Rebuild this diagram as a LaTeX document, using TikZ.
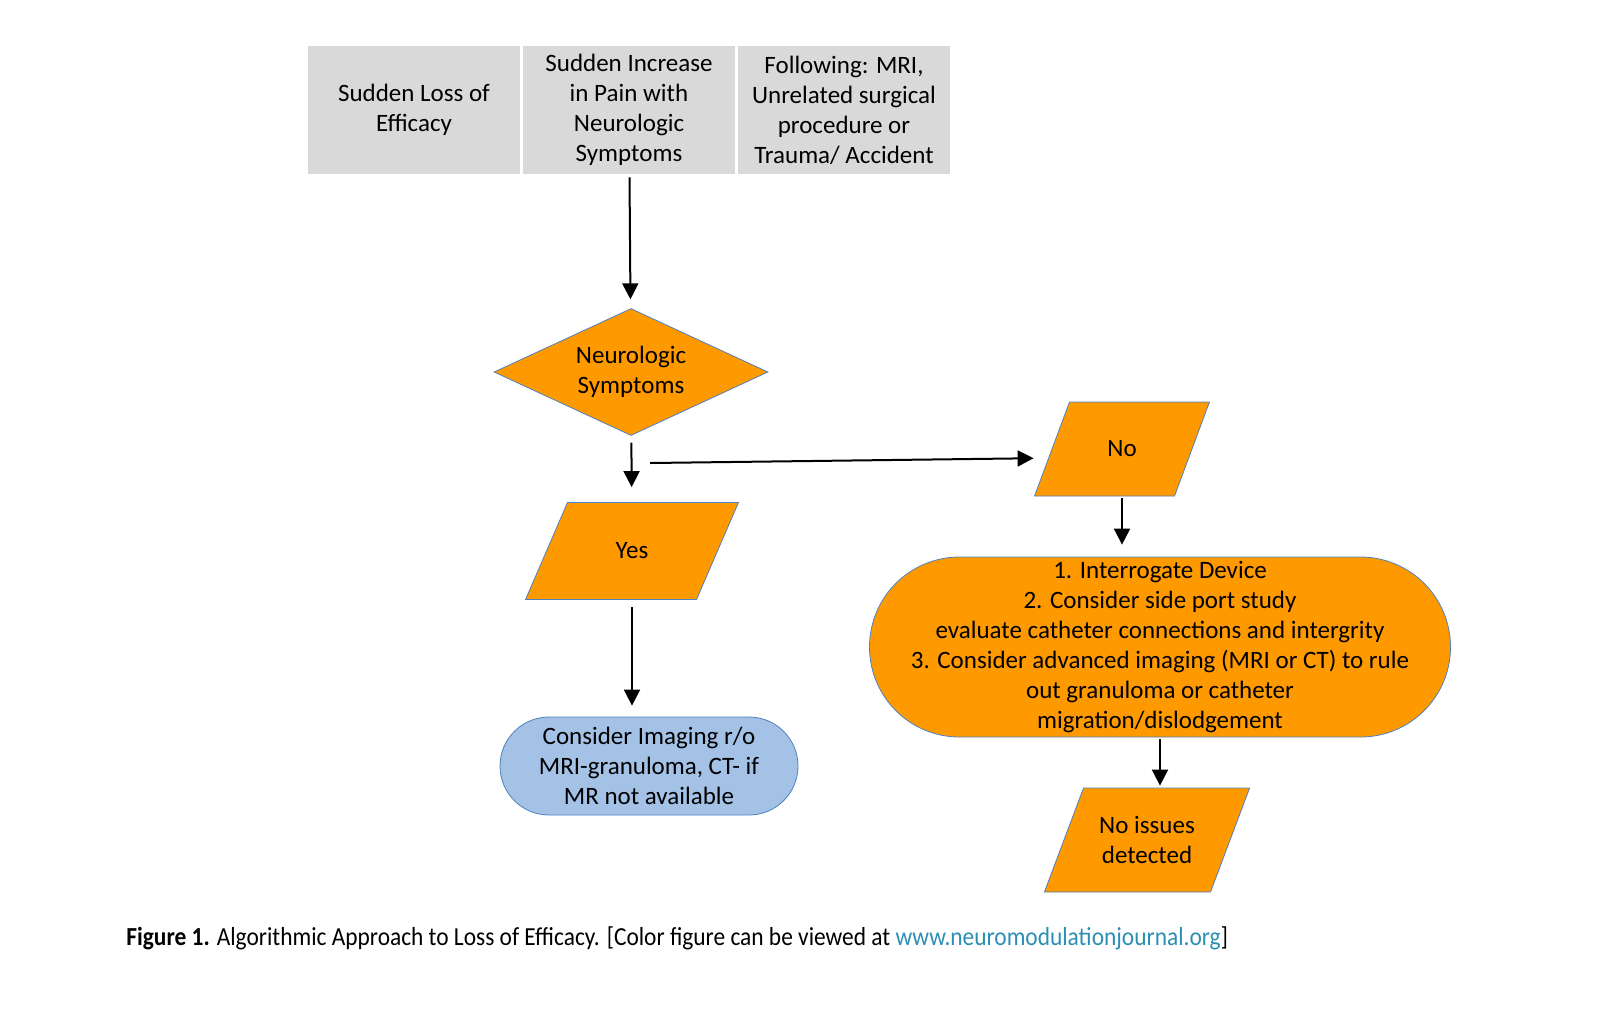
\documentclass[tikz,border=0pt]{standalone}
\usepackage{fontspec}
\setmainfont{Carlito}
\usetikzlibrary{shapes.geometric,arrows.meta}
\definecolor{cellgray}{HTML}{D9D9D9}
\definecolor{boxorange}{HTML}{FF9900}
\definecolor{boxblue}{HTML}{A4C2E6}
\definecolor{lineblue}{HTML}{4F81BD}
\definecolor{linkteal}{HTML}{2B8FB3}
% fixed-size text box for the slanted boxes
\newcommand{\parabox}[3]{\parbox[c][#2][c]{#1}{\centering #3}}
\begin{document}
\begin{tikzpicture}
[x=0.5pt,y=-0.5pt,
  every node/.style={font=\fontsize{12.5}{15}\selectfont,align=center,inner sep=0pt},%
  celldecorate/.style={shape=rectangle,fill=cellgray,minimum width=106pt,minimum height=64pt},%
  diamonddecorate/.style={shape=diamond,aspect=2.16,draw=lineblue,fill=boxorange,minimum width=137pt,minimum height=63.5pt},%
  paradecorate/.style={shape=trapezium,draw=lineblue,fill=boxorange},%
  stadiumdecorate/.style={shape=rectangle,draw=lineblue},%
  arrowdecorate/.style={-{Triangle[length=8pt,width=8pt]},line width=1pt}]
\useasboundingbox (0,0) rectangle (1600,1030);
% nodes or vertices
\node (loss) at (414,110) [celldecorate] {Sudden Loss of\\Efficacy};
\node (pain) at (629,110) [celldecorate] {Sudden Increase\\in Pain with\\Neurologic\\Symptoms};
\node (mri) at (844,110) [celldecorate] {Following: MRI,\\Unrelated surgical\\procedure or\\Trauma/ Accident};
\node (neuro) at (631,372) [diamonddecorate] {Neurologic\\Symptoms};
\node (yes) at (632,551) [paradecorate,trapezium left angle=66.6,trapezium right angle=113.4] {\parabox{64.5pt}{48.5pt}{Yes}};
\node (no) at (1122,449) [paradecorate,trapezium left angle=69.6,trapezium right angle=110.4] {\parabox{52.5pt}{47pt}{No}};
\node (imaging) at (649,766) [stadiumdecorate,fill=boxblue,minimum width=149pt,minimum height=49pt,rounded corners=24.5pt] {Consider Imaging r/o\\MRI-granuloma, CT- if\\MR not available};
\node (device) at (1160,647) [stadiumdecorate,fill=boxorange,minimum width=290.5pt,minimum height=90pt,rounded corners=45pt] {1. Interrogate Device\\2. Consider side port study\\evaluate catheter connections and intergrity\\3. Consider advanced imaging (MRI or CT) to rule\\out granuloma or catheter\\migration/dislodgement};
\node (noissues) at (1147,840) [paradecorate,trapezium left angle=69.4,trapezium right angle=110.6] {\parabox{63.5pt}{52pt}{No issues\\detected}};
\coordinate (fork) at (650,463);
% caption
\node (caption) at (126,938) [anchor=west,font=\fontsize{13}{15}\selectfont] {\scalebox{0.9}[1]{\textbf{Figure 1.} Algorithmic Approach to Loss of Efficacy. [Color figure can be viewed at \textcolor{linkteal}{www.neuromodulationjournal.org}]}};
% edges or lines
\draw[arrowdecorate,shorten <=1.5pt,shorten >=4.5pt] (pain) -- (neuro);
\draw[arrowdecorate,shorten <=3.5pt,shorten >=7.5pt] (neuro) -- (yes);
\draw[arrowdecorate,shorten >=9pt] (fork) -- ([yshift=-4.5pt]no.west);
\draw[arrowdecorate,shorten <=1pt,shorten >=6pt] (no.south) -- (no.south |- device.north);
\draw[arrowdecorate,shorten <=3.5pt,shorten >=5.5pt] (yes.south) -- (yes.south |- imaging.north);
\draw[arrowdecorate,shorten <=1pt,shorten >=1pt] (device.south) -- (device.south |- noissues.north);
\end{tikzpicture}
\end{document}
